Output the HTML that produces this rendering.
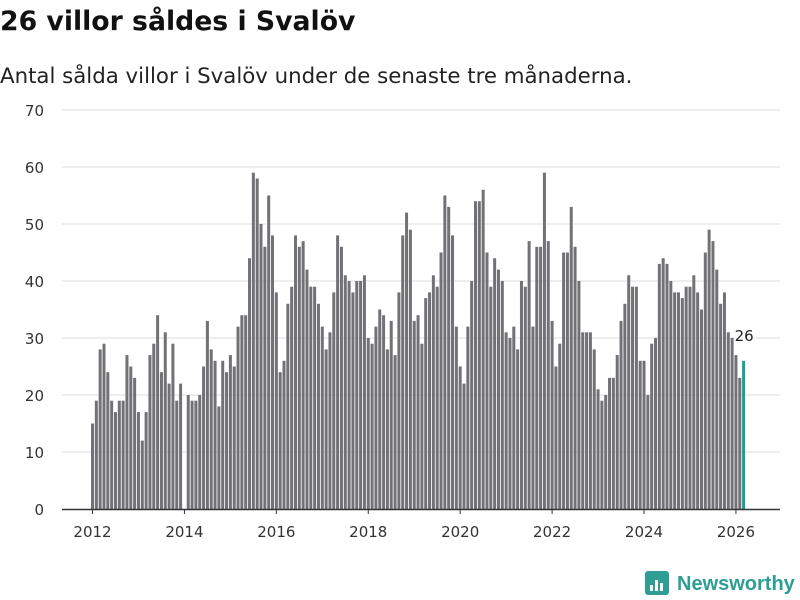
<!DOCTYPE html>
<html><head><meta charset="utf-8"><style>
body{margin:0;background:#fff;font-family:"DejaVu Sans","Liberation Sans",sans-serif;}
#wrap{position:relative;width:800px;height:600px;overflow:hidden;}
h1{position:absolute;left:0;top:6px;margin:0;font-size:26.7px;font-weight:bold;color:#111;}
p.sub{position:absolute;left:0;top:64px;margin:0;font-size:21.3px;color:#222;}
</style></head><body>
<div id="wrap">
<h1>26 villor såldes i Svalöv</h1>
<p class="sub">Antal sålda villor i Svalöv under de senaste tre månaderna.</p>
<svg id="chart" width="800" height="600" style="position:absolute;left:0;top:0"></svg>
</div>
<script>
const startYear = 2012;
const values = [
15,19,28,29,24,19,17,19,19,27,25,23,
17,12,17,27,29,34,24,31,22,29,19,22,
0,20,19,19,20,25,33,28,26,18,26,24,
27,25,32,34,34,44,59,58,50,46,55,48,
38,24,26,36,39,48,46,47,42,39,39,36,
32,28,31,38,48,46,41,40,38,40,40,41,
30,29,32,35,34,28,33,27,38,48,52,49,
33,34,29,37,38,41,39,45,55,53,48,32,
25,22,32,40,54,54,56,45,39,44,42,40,
31,30,32,28,40,39,47,32,46,46,59,47,
33,25,29,45,45,53,46,40,31,31,31,28,
21,19,20,23,23,27,33,36,41,39,39,26,
26,20,29,30,43,44,43,40,38,38,37,39,
39,41,38,35,45,49,47,42,36,38,31,30,
27,23,26];
const yTicks = [0,10,20,30,40,50,60,70];
const xTickYears = [2012,2014,2016,2018,2020,2022,2024,2026];

const NS='http://www.w3.org/2000/svg';
const svg=document.getElementById('chart');
const FF='DejaVu Sans, Liberation Sans, sans-serif';
const y0=509, pxPerUnit=(509-110)/70;
const yS=v=>y0-v*pxPerUnit;
const xS=i=>92.5+i*3.83;
function mk(t,a){const e=document.createElementNS(NS,t);for(const k in a)e.setAttribute(k,a[k]);svg.appendChild(e);return e;}
yTicks.forEach(t=>{
  if(t>0){const g=mk('line',{x1:62,x2:780,y1:yS(t),y2:yS(t),stroke:'#dedede','stroke-width':1});
  
  }
  const l=mk('text',{x:44,y:yS(t)+6,'text-anchor':'end','font-size':15,fill:'#333','font-family':FF});
  l.textContent=t;
  
  
});
values.forEach((v,i)=>{
  const last=i===values.length-1;
  const r=mk('rect',{x:xS(i)-1.5,y:yS(v),width:3,height:v*pxPerUnit,fill:last?'#1a9e96':'#727176'});
  
  
});
const ax=mk('line',{x1:62,x2:780,y1:y0+0.5,y2:y0+0.5,stroke:'#333','stroke-width':1.5});


xTickYears.forEach(yr=>{
  const x=xS((yr-startYear)*12);
  const t=mk('line',{x1:x,x2:x,y1:y0,y2:y0+5,stroke:'#333','stroke-width':1});
  
  
  const l=mk('text',{x:x,y:537,'text-anchor':'middle','font-size':15,fill:'#333','font-family':FF});
  l.textContent=yr;
  
  
});
const li=values.length-1;
const vl=mk('text',{x:xS(li)-9,y:yS(values[li])-20,'font-size':15,fill:'#222','font-family':FF,stroke:'#fff','stroke-width':3,'paint-order':'stroke'});
vl.textContent=values[li];


const lg=mk('g',{});


const b=document.createElementNS(NS,'rect');
b.setAttribute('x',645);b.setAttribute('y',571);b.setAttribute('width',24);b.setAttribute('height',24);b.setAttribute('rx',3);b.setAttribute('fill','#2e9e94');
lg.appendChild(b);
[[650,585,3,6],[655,580,3,11],[660,583,3,8]].forEach(a=>{const r=document.createElementNS(NS,'rect');r.setAttribute('x',a[0]);r.setAttribute('y',a[1]);r.setAttribute('width',a[2]);r.setAttribute('height',a[3]);r.setAttribute('fill','#fff');lg.appendChild(r);});
const lt=document.createElementNS(NS,'text');
lt.setAttribute('x',677);lt.setAttribute('y',590);lt.setAttribute('font-size',20);lt.setAttribute('font-weight','bold');lt.setAttribute('fill','#2e9e94');lt.setAttribute('font-family','Liberation Sans, sans-serif');
lt.textContent='Newsworthy';
lg.appendChild(lt);
</script>
</body></html>
